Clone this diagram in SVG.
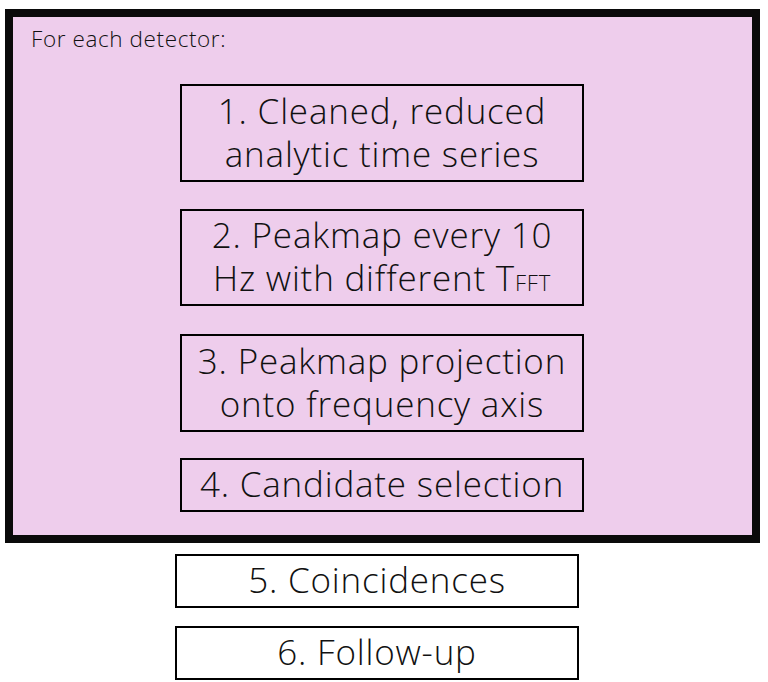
<svg xmlns="http://www.w3.org/2000/svg" width="768" height="682" viewBox="0 0 768 682">
<style>
.frame{fill:#eecdec;stroke:#0a0a0a;stroke-width:8;stroke-linejoin:miter}
.box{fill:none;stroke:#000;stroke-width:2}
.box2{fill:#fff;stroke:#000;stroke-width:2}
.t{font-family:"Open Sans","Liberation Sans",sans-serif;font-weight:300;font-size:35px;letter-spacing:0.8px;fill:#111;text-anchor:middle}
.s{font-family:"Open Sans","Liberation Sans",sans-serif;font-weight:300;font-size:22.5px;letter-spacing:0.6px;fill:#111}
</style>
<rect width="768" height="682" fill="#fff"/>
<g id="frame">
<rect class="frame" x="9" y="13" width="747" height="526"/>
<text class="s" x="31" y="47">For each detector:</text>
</g>
<g id="connectors"></g>
<g id="n1">
<rect class="box" x="181" y="85" width="402" height="96"/>
<text class="t" x="382" y="124">1. Cleaned, reduced</text>
<text class="t" x="382" y="167">analytic time series</text>
</g>
<g id="n2">
<rect class="box" x="181" y="210" width="402" height="95"/>
<text class="t" x="382" y="248">2. Peakmap every 10</text>
<text class="t" x="382" y="291">Hz with different T<tspan font-size="22">FFT</tspan></text>
</g>
<g id="n3">
<rect class="box" x="181" y="335" width="402" height="96"/>
<text class="t" x="382" y="374">3. Peakmap projection</text>
<text class="t" x="382" y="417">onto frequency axis</text>
</g>
<g id="n4">
<rect class="box" x="181" y="459" width="402" height="52"/>
<text class="t" x="382" y="497">4. Candidate selection</text>
</g>
<g id="n5">
<rect class="box2" x="176" y="555" width="402" height="52"/>
<text class="t" x="377" y="593">5. Coincidences</text>
</g>
<g id="n6">
<rect class="box2" x="176" y="627" width="402" height="52"/>
<text class="t" x="377" y="665">6. Follow-up</text>
</g>
</svg>
